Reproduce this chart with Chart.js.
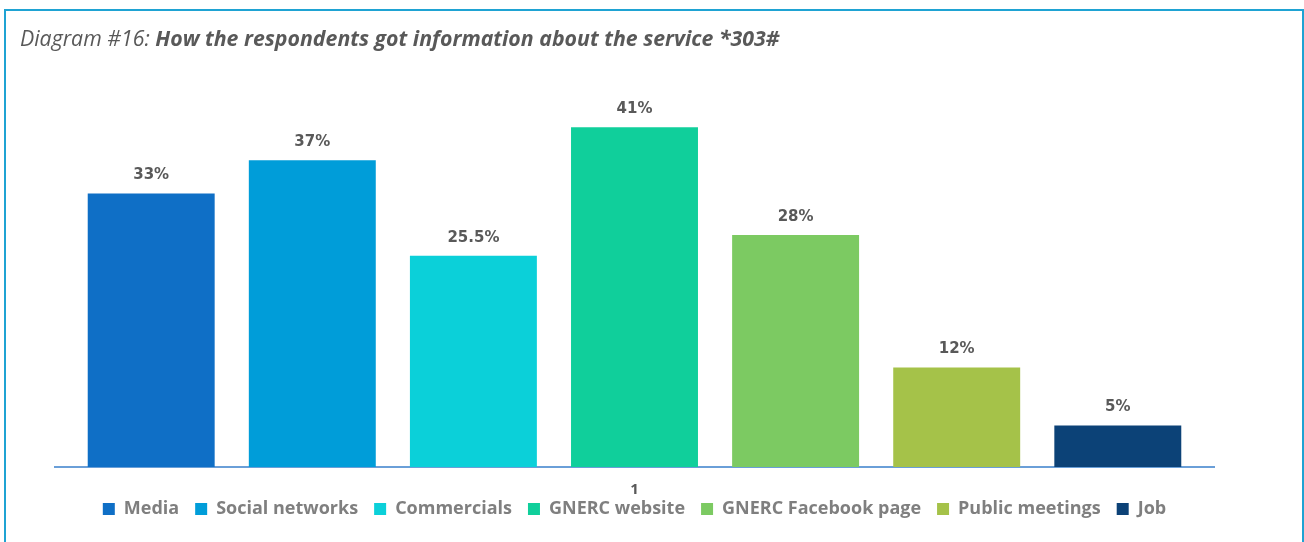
<!DOCTYPE html>
<html>
<head>
<meta charset="utf-8">
<script src="https://cdn.jsdelivr.net/npm/chart.js@4.4.0/dist/chart.umd.min.js"></script>
<style>
  body { margin: 0; background: #fff; }
  #wrap { position: relative; width: 1304px; height: 542px; overflow: hidden; }
  #frame { position: absolute; left: 4px; top: 9px; width: 1296px; height: 560px; border: 2px solid #1fa3d3; pointer-events: none; }
  #title { position: absolute; left: 20px; top: 23px; font-family: "Open Sans", Lato, sans-serif; font-style: italic; font-size: 21.3px; color: #595959; white-space: nowrap; }
  #title b { font-weight: bold; }
  canvas { position: absolute; left: 0; top: 0; }
</style>
</head>
<body>
<div id="wrap">
  <canvas id="barChart" width="1304" height="542"></canvas>
  <div id="frame"></div>
  <div id="title">Diagram #16: <b>How the respondents got information about the service *303#</b></div>
</div>
<script>
// data
var categories = ["1"];
var seriesNames = ["Media", "Social networks", "Commercials", "GNERC website", "GNERC Facebook page", "Public meetings", "Job"];
var seriesValues = [33, 37, 25.5, 41, 28, 12, 5];
var seriesColors = ['#0f6fc6', '#009dd9', '#0bd0d9', '#10cf9b', '#7cca62', '#a5c249', '#0c4277'];

var datasets = seriesNames.map(function (name, i) {
  return {
    label: name,
    data: [seriesValues[i]],
    backgroundColor: seriesColors[i],
    borderWidth: 0,
    barPercentage: 0.788,
    categoryPercentage: 0.973
  };
});

// value labels above each bar, plus the category label that sits right on top of the legend
var valueLabels = {
  id: 'valueLabels',
  afterDatasetsDraw: function (chart) {
    var c = chart.ctx;
    c.save();
    c.font = 'bold 15px "DejaVu Sans", Verdana, sans-serif';
    c.fillStyle = '#595959';
    c.textAlign = 'center';
    c.textBaseline = 'middle';
    chart.data.datasets.forEach(function (ds, i) {
      chart.getDatasetMeta(i).data.forEach(function (bar, j) {
        c.fillText(ds.data[j] + '%', bar.x, bar.y - 18);
      });
    });
    var xs = chart.scales.x;
    c.font = 'bold 15px "Open Sans", sans-serif';
    xs.getLabels().forEach(function (lab, k) {
      c.fillText(lab, xs.getPixelForTick(k), xs.top + 23);
    });
    c.restore();
  }
};

var ctx = document.getElementById("barChart").getContext('2d');
var chart = new Chart(ctx, {
  type: 'bar',
  data: { labels: categories, datasets: datasets },
  plugins: [valueLabels],
  options: {
    responsive: false,
    animation: false,
    layout: { padding: { left: 55, right: 90, top: 94, bottom: 14 } },
    scales: {
      x: {
        grid: { display: false, drawTicks: false },
        border: { display: true, color: '#6a9fd8', width: 2 },
        ticks: { display: false },
        // keep the axis band thin so the legend sits just under the "1"
        afterFit: function (scale) { scale.height = 17; }
      },
      y: {
        display: false,
        min: 0,
        max: 45
      }
    },
    plugins: {
      tooltip: { enabled: false },
      legend: {
        position: 'bottom',
        labels: {
          color: '#7f7f7f',
          boxWidth: 12,
          boxHeight: 12,
          padding: 16,
          font: { family: '"Open Sans", sans-serif', size: 18, weight: 'bold' }
        }
      }
    }
  }
});
</script>
</body>
</html>
